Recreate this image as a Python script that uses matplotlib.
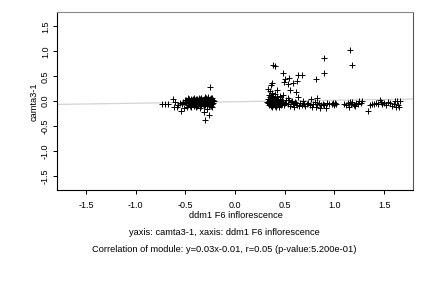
import numpy as np
import matplotlib
matplotlib.use("Agg")
import matplotlib.pyplot as plt

plt.rcParams['font.family'] = ['Liberation Sans', 'DejaVu Sans']

# =========================================================
# Data
# =========================================================
# left cluster: sparse tail + outliers
left_sparse = [(-0.73, -0.06), (-0.70, -0.06), (-0.67, -0.06), (-0.62, 0.04),
               (-0.60, -0.01), (-0.61, -0.12), (-0.58, -0.12), (-0.57, -0.08),
               (-0.54, -0.19), (-0.53, -0.05), (-0.55, -0.03), (-0.51, -0.13),
               (-0.25, 0.28), (-0.26, -0.28), (-0.30, -0.38), (-0.31, -0.22),
               (-0.28, -0.15), (-0.35, -0.13), (-0.44, -0.12), (-0.48, -0.11),
               (-0.39, -0.11), (-0.23, -0.12), (-0.50, 0.02), (-0.52, -0.02)]

# left cluster: dense blob
left_blob = [(-0.47, 0.06), (-0.44, 0.05), (-0.41, 0.07), (-0.39, 0.05), (-0.36, 0.06),
             (-0.34, 0.07), (-0.31, 0.05), (-0.29, 0.06), (-0.27, 0.08), (-0.25, 0.05),
             (-0.23, 0.06), (-0.49, 0.03), (-0.46, 0.02), (-0.43, 0.03), (-0.40, 0.02),
             (-0.38, 0.04), (-0.35, 0.02), (-0.33, 0.03), (-0.30, 0.02), (-0.28, 0.04),
             (-0.26, 0.02), (-0.24, 0.03), (-0.22, 0.02), (-0.50, -0.01), (-0.48, 0.00),
             (-0.45, -0.01), (-0.42, 0.01), (-0.39, -0.01), (-0.37, 0.00), (-0.34, -0.01),
             (-0.32, 0.01), (-0.29, -0.01), (-0.27, 0.00), (-0.25, -0.01), (-0.23, 0.01),
             (-0.21, 0.00), (-0.49, -0.04), (-0.46, -0.03), (-0.44, -0.04), (-0.41, -0.03),
             (-0.38, -0.04), (-0.36, -0.02), (-0.33, -0.04), (-0.31, -0.03), (-0.28, -0.04),
             (-0.26, -0.02), (-0.24, -0.04), (-0.22, -0.03), (-0.47, -0.07), (-0.43, -0.06),
             (-0.40, -0.07), (-0.37, -0.06), (-0.35, -0.08), (-0.32, -0.06), (-0.30, -0.07),
             (-0.27, -0.06), (-0.25, -0.08), (-0.23, -0.06), (-0.45, -0.09), (-0.41, -0.10),
             (-0.38, -0.09), (-0.34, -0.10), (-0.31, -0.09), (-0.28, -0.10), (-0.26, -0.09),
             (-0.24, -0.10), (-0.42, 0.05), (-0.37, 0.03), (-0.32, -0.02), (-0.29, 0.03),
             (-0.27, -0.03), (-0.35, 0.05), (-0.30, 0.08), (-0.24, 0.07), (-0.46, 0.05)]

# right cluster: dense part near x=0.3-0.5
right_blob = [(0.33, 0.05), (0.35, 0.03), (0.37, 0.06), (0.39, 0.04), (0.41, 0.05),
              (0.43, 0.03), (0.45, 0.05), (0.47, 0.02), (0.34, 0.00), (0.36, -0.01),
              (0.38, 0.01), (0.40, -0.01), (0.42, 0.00), (0.44, -0.02), (0.46, 0.00),
              (0.48, -0.01), (0.33, -0.04), (0.35, -0.05), (0.37, -0.03), (0.39, -0.06),
              (0.41, -0.04), (0.43, -0.06), (0.45, -0.04), (0.47, -0.05), (0.34, -0.08),
              (0.36, -0.09), (0.38, -0.07), (0.40, -0.09), (0.42, -0.08), (0.44, -0.09),
              (0.46, -0.07), (0.35, 0.08), (0.38, 0.10), (0.40, 0.07), (0.42, 0.09),
              (0.34, 0.13), (0.45, 0.09), (0.37, -0.11), (0.41, -0.12), (0.44, -0.11),
              (0.49, -0.08), (0.50, -0.03), (0.51, 0.02), (0.32, -0.02), (0.36, 0.11)]

# right cluster: band from 0.5 to 1.65
right_band = [(0.53, -0.05), (0.55, -0.09), (0.56, -0.02), (0.58, -0.06), (0.59, -0.11),
              (0.61, -0.03), (0.62, -0.07), (0.64, -0.10), (0.65, -0.04), (0.67, -0.08),
              (0.69, -0.05), (0.70, -0.10), (0.72, -0.06), (0.73, -0.03), (0.75, -0.08),
              (0.77, -0.12), (0.78, -0.05), (0.80, -0.02), (0.81, -0.11), (0.82, -0.06),
              (0.84, -0.04), (0.85, -0.13), (0.86, -0.08), (0.88, -0.05), (0.90, -0.07),
              (0.92, -0.13), (0.93, -0.04), (0.95, -0.06), (0.98, -0.05), (0.99, -0.03),
              (1.00, -0.07), (1.01, -0.04), (1.02, -0.06), (0.54, 0.02), (0.57, 0.00),
              (0.68, 0.01), (0.76, 0.04), (0.82, 0.07), (0.60, -0.01),
              (1.10, -0.05), (1.12, -0.08), (1.14, -0.03), (1.15, -0.11), (1.17, -0.06),
              (1.18, -0.02), (1.20, -0.07), (1.21, -0.10), (1.22, -0.03), (1.24, -0.05),
              (1.25, 0.00), (1.27, -0.04), (1.28, 0.01), (1.16, -0.01),
              (1.34, -0.20), (1.36, -0.07), (1.38, -0.05), (1.40, -0.06), (1.42, -0.04),
              (1.44, -0.05), (1.46, 0.03), (1.47, -0.02), (1.48, -0.06), (1.50, -0.03),
              (1.52, -0.07), (1.54, -0.01), (1.56, -0.04), (1.58, -0.09), (1.60, -0.05),
              (1.61, 0.00), (1.63, 0.01), (1.64, -0.08), (1.65, -0.11), (1.66, 0.01),
              (1.62, -0.12)]

# right cluster: upper outliers
right_upper = [(1.16, 1.02), (1.18, 0.72), (0.90, 0.87), (0.90, 0.57), (0.81, 0.45),
               (0.38, 0.72), (0.40, 0.70), (0.48, 0.57), (0.50, 0.45), (0.54, 0.47),
               (0.63, 0.52), (0.67, 0.53), (0.62, 0.40), (0.58, 0.37), (0.53, 0.35),
               (0.49, 0.39), (0.37, 0.37), (0.36, 0.32), (0.33, 0.25), (0.35, 0.21),
               (0.42, 0.23), (0.55, 0.23), (0.61, 0.19), (0.63, 0.09), (0.45, 0.10),
               (0.53, 0.07), (0.37, 0.16), (0.40, 0.14), (0.48, 0.13)]

points = left_sparse + left_blob + right_blob + right_band + right_upper
x_vals = np.array([p[0] for p in points])
y_vals = np.array([p[1] for p in points])

# fit shown in the caption
slope = 0.03
intercept = -0.01

x_ticks = [-1.5, -1.0, -0.5, 0.0, 0.5, 1.0, 1.5]
y_ticks = [-1.5, -1.0, -0.5, 0.0, 0.5, 1.0, 1.5]

# =========================================================
# Plot
# =========================================================
fig = plt.figure(figsize=(4.32, 2.88), dpi=100)
ax = fig.add_axes([0.132, 0.340, 0.824, 0.617])

xlim = (-1.79, 1.79)
ax.plot(xlim, [slope * xlim[0] + intercept, slope * xlim[1] + intercept],
        color='#d3d3d3', linewidth=0.9, zorder=1)
ax.plot(x_vals, y_vals, '+', color='black', markersize=4, markeredgewidth=0.7, zorder=2)

ax.set_xlim(xlim)
ax.set_ylim(-1.78, 1.78)
ax.set_xticks(x_ticks)
ax.set_yticks(y_ticks)
ax.set_xticklabels([f"{t:.1f}" for t in x_ticks])
ax.set_yticklabels([f"{t:.1f}" for t in y_ticks], rotation=90, va='center')
ax.tick_params(direction='out', length=3, width=0.7, labelsize=6.5)
ax.tick_params(axis='x', pad=5)
ax.tick_params(axis='y', pad=2)

for side in ['left', 'bottom']:
    ax.spines[side].set_linewidth(0.8)
    ax.spines[side].set_color('black')
ax.spines['top'].set_color('#888888')
ax.spines['top'].set_linewidth(0.8)
ax.spines['right'].set_color('#555555')
ax.spines['right'].set_linewidth(0.8)

ax.set_ylabel('camta3-1', fontsize=6.7, labelpad=2)

fig.text(0.545, 0.25, 'ddm1 F6 inflorescence', ha='center', va='center', fontsize=6.7)
fig.text(0.52, 0.191, 'yaxis: camta3-1, xaxis: ddm1 F6 inflorescence',
         ha='center', va='center', fontsize=6.7)
fig.text(0.52, 0.135,
         'Correlation of module: y=0.03x-0.01, r=0.05 (p-value:5.200e-01)',
         ha='center', va='center', fontsize=6.7)

fig.savefig('out.png', dpi=100)
